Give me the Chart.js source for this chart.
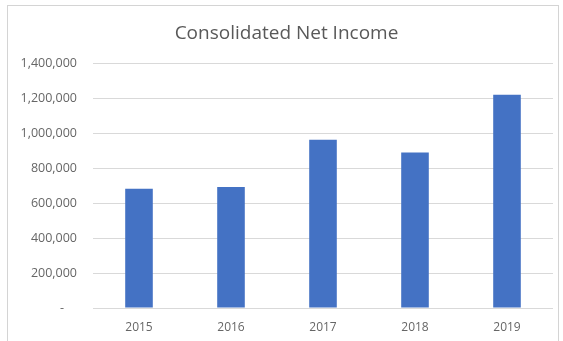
<!DOCTYPE html>
<html>
<head>
<meta charset="utf-8">
<script src="https://cdn.jsdelivr.net/npm/chart.js@4"></script>
<style>
  html, body { margin: 0; padding: 0; background: #fff; }
  #wrap { position: relative; width: 563px; height: 341px; }
  #frame { position: absolute; left: 7px; top: 5px; width: 552px; height: 345px;
           border: 1px solid #d4d4d4; box-sizing: border-box; }
  canvas { position: absolute; left: 0; top: 0; }
</style>
</head>
<body>
<div id="wrap">
  <div id="frame"></div>
  <canvas id="gIncome" width="563" height="341"></canvas>
</div>
<script>
var years = ["2015", "2016", "2017", "2018", "2019"];
var netIncome = [683000, 694000, 964000, 891000, 1222000];
var yTicks = [0, 200000, 400000, 600000, 800000, 1000000, 1200000, 1400000];

var ctx = document.getElementById("gIncome").getContext('2d');
var myChart = new Chart(ctx, {
    type: 'bar',
    data: {
      labels: years,
      datasets: [{
          label: "Consolidated Net Income",
          backgroundColor: "#4472c4",
          data: netIncome,
          barPercentage: 0.3,
          categoryPercentage: 1
        }]
    },
    options: {
      responsive: false,
      animation: false,
      layout: { padding: { left: 20, right: 10, top: 6, bottom: 6 } },
      plugins: {
        title: {
          display: true,
          text: 'Consolidated Net Income',
          color: '#595959',
          font: { family: 'Open Sans', size: 19, weight: 'normal' },
          padding: { top: 16, bottom: 19 }
        },
        legend: { display: false },
        tooltip: { enabled: false }
      },
      scales: {
        x: {
          afterFit: function (scale) { scale.height = 27; },
          grid: { display: false },
          border: { display: false },
          ticks: { color: '#666666', font: { family: 'Open Sans', size: 12 }, padding: 4 }
        },
        y: {
          min: yTicks[0],
          max: yTicks[yTicks.length - 1],
          afterFit: function (scale) { scale.width = 73; },
          afterBuildTicks: function (scale) {
            scale.ticks = yTicks.map(function (v) { return { value: v }; });
          },
          grid: { color: '#d9d9d9', drawTicks: false },
          border: { display: false },
          ticks: {
            color: '#666666',
            font: { family: 'Open Sans', size: 12.5 },
            padding: 16,
            callback: function (v) {
              return v === 0 ? '-    ' : v.toLocaleString('en-US');
            }
          }
        }
      }
    }
});
</script>
</body>
</html>
